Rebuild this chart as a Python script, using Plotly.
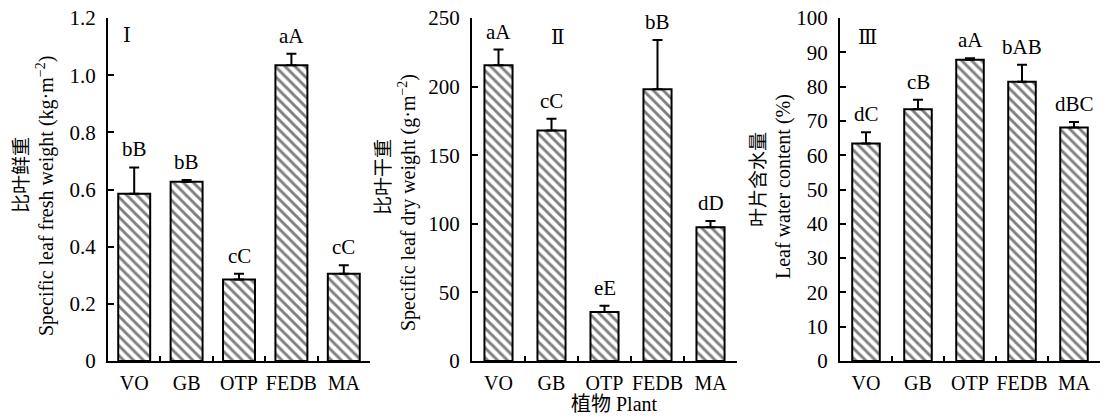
import plotly.graph_objects as go

plants = ["VO", "GB", "OTP", "FEDB", "MA"]

fresh_weight = [0.585, 0.627, 0.285, 1.035, 0.305]
fresh_err = [0.092, 0.006, 0.02, 0.04, 0.03]
fresh_letters = ["bB", "bB", "cC", "aA", "cC"]
fresh_ticks = [0, 0.2, 0.4, 0.6, 0.8, 1.0, 1.2]
fresh_ticktext = ["0", "0.2", "0.4", "0.6", "0.8", "1.0", "1.2"]

dry_weight = [215.5, 168.0, 35.8, 198.0, 97.5]
dry_err = [11.5, 8.5, 4.5, 36.0, 4.5]
dry_letters = ["aA", "cC", "eE", "bB", "dD"]
dry_ticks = [0, 50, 100, 150, 200, 250]

water_content = [63.4, 73.4, 87.8, 81.4, 68.1]
water_err = [3.3, 2.8, 0.5, 5.0, 1.6]
water_letters = ["dC", "cB", "aA", "bAB", "dBC"]
water_ticks = [0, 10, 20, 30, 40, 50, 60, 70, 80, 90, 100]

panel_marks = ["Ⅰ", "Ⅱ", "Ⅲ"]
ytitles_cn = ["比叶鲜重", "比叶干重", "叶片含水量"]
ytitles_en = ["Specific leaf fresh weight (kg·m<sup>−2</sup>)",
              "Specific leaf dry weight (g·m<sup>−2</sup>)",
              "Leaf water content (%)"]
xtitle = "植物 Plant"

FONT = "Liberation Serif, Times New Roman, Noto Sans CJK SC, serif"
MARK_FONT = "DejaVu Serif, Liberation Serif, Noto Sans CJK SC, serif"
W, H = 1105, 418
TOP, BOT = 18, 57

fig = go.Figure()

panels = [
    (fresh_weight, fresh_err, fresh_letters, [0, 1.2], fresh_ticks, fresh_ticktext, [108, 370], 0.61),
    (dry_weight, dry_err, dry_letters, [0, 250], dry_ticks, [str(v) for v in dry_ticks], [472, 737], 0.53),
    (water_content, water_err, water_letters, [0, 100], water_ticks, [str(v) for v in water_ticks], [840, 1100], 0.53),
]

cn_pos = [(19, 175), (381, 177), (757, 180)]
en_pos = [(45, 196), (407, 203), (783, 187)]
mark_pos = [(127, 35), (558, 37), (867, 37)]

ph = H - TOP - BOT


def py(y):
    return 1 - (y - TOP) / ph


for i, (vals, errs, letters, yr, tv, tt, xpx, bw) in enumerate(panels):
    xa = "x" if i == 0 else f"x{i+1}"
    ya = "y" if i == 0 else f"y{i+1}"
    fig.add_trace(go.Bar(
        x=plants, y=vals, width=bw,
        xaxis=xa, yaxis=ya,
        marker=dict(color="white",
                    line=dict(color="black", width=2),
                    pattern=dict(shape="\\", fgcolor="black", bgcolor="white",
                                 size=7, solidity=0.42)),
        error_y=dict(type="data", array=errs, arrayminus=[0] * len(errs),
                     symmetric=False, color="black", thickness=2, width=5),
        showlegend=False,
    ))
    xkey = "xaxis" if i == 0 else f"xaxis{i+1}"
    ykey = "yaxis" if i == 0 else f"yaxis{i+1}"
    fig.update_layout(**{
        xkey: dict(domain=[xpx[0] / W, xpx[1] / W], anchor=ya,
                   type="category", range=[-0.5, 4.5],
                   showline=True, linecolor="black", linewidth=2,
                   ticks="inside", tickson="boundaries", ticklen=5,
                   tickwidth=2, tickcolor="black", tickangle=0,
                   ticklabelstandoff=3,
                   tickfont=dict(family=FONT, size=20, color="black"),
                   showgrid=False, zeroline=False, fixedrange=True),
        ykey: dict(domain=[0, 1], anchor=xa, range=yr,
                   tickmode="array", tickvals=tv, ticktext=tt,
                   showline=True, linecolor="black", linewidth=2,
                   ticks="inside", ticklen=6, tickwidth=2, tickcolor="black",
                   ticklabelstandoff=6,
                   tickfont=dict(family=FONT, size=21, color="black"),
                   showgrid=False, zeroline=False, fixedrange=True),
    })
    for p, v, e, t in zip(plants, vals, errs, letters):
        fig.add_annotation(x=p, y=v + e, xref=xa, yref=ya, text=t,
                           showarrow=False, yanchor="bottom", yshift=4,
                           font=dict(family=FONT, size=21, color="black"))
    fig.add_annotation(x=cn_pos[i][0] / W, y=py(cn_pos[i][1]), xref="paper", yref="paper",
                       text=ytitles_cn[i], textangle=-90, showarrow=False,
                       xanchor="center", yanchor="middle",
                       font=dict(family="Noto Sans CJK SC", size=19, color="black"))
    fig.add_annotation(x=en_pos[i][0] / W, y=py(en_pos[i][1]), xref="paper", yref="paper",
                       text=ytitles_en[i], textangle=-90, showarrow=False,
                       xanchor="center", yanchor="middle",
                       font=dict(family=FONT, size=20, color="black"))
    fig.add_annotation(x=mark_pos[i][0] / W, y=py(mark_pos[i][1]), xref="paper", yref="paper",
                       text=panel_marks[i], showarrow=False,
                       xanchor="center", yanchor="middle",
                       font=dict(family=MARK_FONT, size=20, color="black"))

fig.add_annotation(x=614 / W, y=py(404), xref="paper", yref="paper",
                   text=xtitle, showarrow=False, xanchor="center", yanchor="middle",
                   font=dict(family=FONT, size=20, color="black"))

fig.update_layout(width=W, height=H, margin=dict(l=0, r=0, t=TOP, b=BOT),
                  plot_bgcolor="white", paper_bgcolor="white")

fig.write_html("out.html", config={"displayModeBar": False},
               post_script="document.body.style.margin='0px';document.body.style.overflow='hidden';")
